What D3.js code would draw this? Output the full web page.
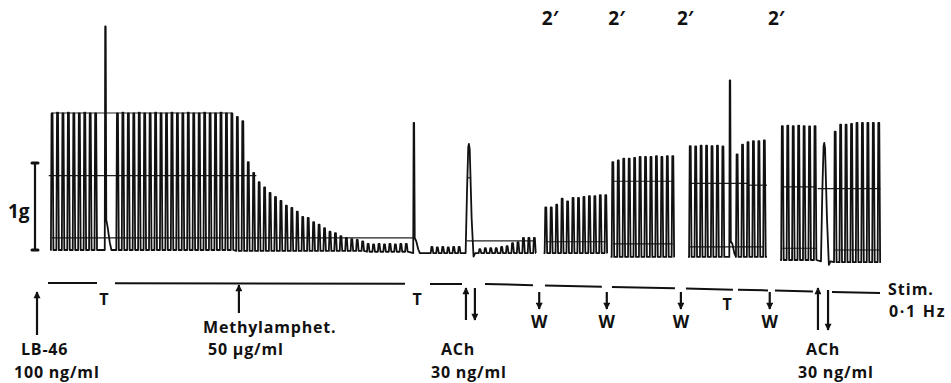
<!DOCTYPE html>
<html><head><meta charset="utf-8">
<script src="https://cdn.jsdelivr.net/npm/d3@7"></script>
<style>
body{margin:0;background:#fff}
svg{display:block;background:#fff}
text{font-family:"Open Sans",sans-serif;font-weight:700;fill:#111}
</style>
</head><body>
<svg id="c" width="951" height="383"></svg>
<script>
// ---------------- DATA ----------------
// time unit: one stimulus interval (0.1 Hz -> 10 s); tension in g
const segA1Peaks = [1.57,1.58,1.57,1.58,1.57,1.57,1.58,1.57,1.57];
const segA2Peaks = [1.57,1.58,1.57,1.57,1.58,1.57,1.57,1.58,1.57,1.57,1.58,1.57,1.57,1.58,1.57,1.57,1.58,1.57,1.57,1.58,1.57,1.57];
const decayPeaks = [1.53,1.48,1.01,0.885,0.78,0.72,0.655,0.61,0.565,0.51,0.485,0.44,0.38,0.37,0.32,0.29,0.25,0.21,0.195,0.16,0.14,0.125,0.115,0.10];
const residualPeaks = [0.07,0.065,0.07,0.065,0.07,0.065,0.07,0.07];
const postTetanusPeaks = [0.035,0.03,0.035,0.03,0.035,0.035];
const postAChPeaks = [0.01,0.02,0.02,0.02,0.035,0.045,0.08,0.09,0.14,0.14,0.14];
const wash1Peaks = [0.49,0.49,0.52,0.59,0.56,0.60,0.60,0.61,0.62,0.62,0.63,0.63];
const wash2Peaks = [1.01,1.03,1.05,1.05,1.06,1.07,1.07,1.07,1.08,1.07,1.08,1.08];
const wash3PrePeaks = [1.195,1.19,1.2,1.2,1.195,1.2,1.19];
const wash3PostPeaks = [1.10,1.21,1.24,1.25,1.25,1.26];
const wash4Peaks = [1.425,1.43,1.425,1.43,1.425,1.42,1.425];
const wash5Peaks = [1.36,1.44,1.44,1.45,1.46,1.46,1.46,1.46,1.46];

const trainPeaks  = [segA1Peaks, segA2Peaks, decayPeaks, residualPeaks, postTetanusPeaks, postAChPeaks,
                     wash1Peaks, wash2Peaks, wash3PrePeaks, wash3PostPeaks, wash4Peaks, wash5Peaks];
const trainStarts = [0, 12, 34, 58, 69.7, 78.5, 90.6, 102.9, 117.1, 125.7, 134, 143.7];
const trainBases  = [0, 0, -0.01, -0.02, -0.035, -0.035, -0.035, -0.08, -0.08, -0.08, -0.115, -0.14];

// tetanic stimulations (T)
const tetanusTimes = [9.8, 66.4, 124.4];
const tetanusPeaks = [2.57, 1.46, 1.95];
const tetanusAfter = [0.35, 0.14, 0.1];
const tetanusBases = [0, -0.035, -0.08];

// ACh contractures
const achTimes = [76.5, 141.7];
const achPeaks = [1.22, 1.23];
const achBases = [-0.035, -0.13];

// continuous pen runs (recording cut into pieces: 2' gaps)
const runStarts = [-0.3, 90.2, 102.5, 116.7, 133.6];
const runEnds   = [88.8, 101.9, 114.2, 131.2, 152.1];

// faint horizontal reference traces
const refStarts = [0, -0.6, 0, 76.2, 76.1, 90.6, 102.9, 102.9, 117.0, 127.6, 117.0, 134, 140.5, 134, 143.5];
const refEnds   = [33, 37.5, 66.6, 76.9, 88.5, 101.6, 113.9, 113.9, 127.6, 131.2, 130.5, 140, 152, 140.2, 152];
const refLevels = [1.575, 0.855, 0.14, 0.83, 0.105, 0.095, 0.79, 0.07, 0.765, 0.745, 0.035, 0.725, 0.705, 0.02, 0.0];

// stimulation marker bars
const stimStarts = [-0.73, 11.56, 69.36, 79.45, 90.46, 102.75, 116.33, 125.87, 132.66, 143.12];
const stimEnds   = [8.26, 64.77, 75.23, 88.26, 100.9, 114.31, 124.95, 131.38, 139.63, 151.93];

// event markers
const tLabelTimes = [9.5, 67, 123.9];
const washTimes = [89.4, 101.8, 115.4, 131.7];
const gapLabelTimes = [91.4, 103.6, 116.2, 132.9];
const gapLabels = ["2′", "2′", "2′", "2′"];
const drugUpTimes = [-2.75, 34.3, 75.96, 140.55];
const drugDownTimes = [77.6, 142.4];

// ---------------- DRAW ----------------
const svg = d3.select("#c");
const x = d3.scaleLinear().domain([0, 152.3]).range([52, 882]);
const y = d3.scaleLinear().domain([0, 1]).range([250, 163]);
const stimY = d3.scaleLinear().domain([0, 79, 152]).range([283, 284, 293]);

// build elements
const elements = [];
trainPeaks.forEach((peaks, k) => {
  const b = trainBases[k];
  peaks.forEach((p, i) => {
    const t = trainStarts[k] + i;
    elements.push({t, base: b, pts: [[t-0.2, b], [t-0.08, p], [t+0.1, p], [t+0.26, b]]});
  });
});
tetanusTimes.forEach((t, k) => {
  const b = tetanusBases[k], p = tetanusPeaks[k], a = tetanusAfter[k];
  elements.push({t, base: b, pts: [[t-0.12, b], [t-0.04, p], [t+0.05, p], [t+0.16, a], [t+0.45, a*0.7], [t+0.8, a*0.25 + b*0.75], [t+1.1, b]]});
});
achTimes.forEach((t, k) => {
  const b = achBases[k], p = achPeaks[k];
  elements.push({t, base: b, pts: [[t-0.6, b], [t-0.35, p*0.55], [t-0.12, p*0.97], [t, p], [t+0.15, p*0.95], [t+0.5, p*0.3], [t+0.85, b-0.04], [t+1.15, b]]});
});
elements.sort((a, b) => a.t - b.t);

const line = d3.line().x(d => x(d[0])).y(d => y(d[1]));

// reference traces
svg.append("g").selectAll("line").data(refStarts).join("line")
  .attr("x1", (d) => x(d)).attr("x2", (d, i) => x(refEnds[i]))
  .attr("y1", (d, i) => y(refLevels[i])).attr("y2", (d, i) => y(refLevels[i]))
  .attr("stroke", "#222").attr("stroke-width", 1.2);

// main pen traces
runStarts.forEach((r0, k) => {
  const r1 = runEnds[k];
  const els = elements.filter(e => e.t >= r0 && e.t <= r1);
  const pts = [[r0, els[0].base]];
  els.forEach(e => pts.push(...e.pts));
  pts.push([r1, els[els.length-1].base]);
  svg.append("path").attr("d", line(pts)).attr("fill", "none")
    .attr("stroke", "#111").attr("stroke-width", 1.8).attr("stroke-linejoin", "round");
});

// scale bar 1 g
const sb = svg.append("g");
sb.append("line").attr("x1", 35).attr("x2", 35).attr("y1", y(0)).attr("y2", y(1)).attr("stroke", "#111").attr("stroke-width", 2.2);
[0, 1].forEach(v => sb.append("line").attr("x1", 32).attr("x2", 38).attr("y1", y(v)).attr("y2", y(v)).attr("stroke", "#111").attr("stroke-width", 3).attr("stroke-linecap", "round"));
svg.append("text").attr("x", 8).attr("y", 218).attr("font-size", 19).text("1g");

// gap labels
svg.append("g").selectAll("text").data(gapLabels).join("text")
  .attr("x", (d, i) => x(gapLabelTimes[i])).attr("y", 25).attr("text-anchor", "middle")
  .attr("font-size", 19).text(d => d);

// stim bars
svg.append("g").selectAll("line").data(stimStarts).join("line")
  .attr("x1", d => x(d)).attr("x2", (d, i) => x(stimEnds[i]))
  .attr("y1", d => stimY(d)).attr("y2", (d, i) => stimY(stimEnds[i]))
  .attr("stroke", "#111").attr("stroke-width", 2);

svg.append("text").attr("x", 888).attr("y", 295).attr("font-size", 16).attr("letter-spacing", 1).text("Stim.");
svg.append("text").attr("x", 889).attr("y", 317).attr("font-size", 16).attr("letter-spacing", 1.7).text("0·1 Hz");

// T labels
svg.append("g").selectAll("text").data(tLabelTimes).join("text")
  .attr("x", d => x(d)).attr("y", (d, i) => i < 2 ? 305 : 310).attr("text-anchor", "middle")
  .attr("font-size", 16).text("T");

// arrow marker
const defs = svg.append("defs");
defs.append("marker").attr("id", "ah").attr("viewBox", "0 0 10 10").attr("refX", 9).attr("refY", 5)
  .attr("markerWidth", 3.4).attr("markerHeight", 3.2).attr("orient", "auto-start-reverse")
  .append("path").attr("d", "M0,0L10,5L0,10Z").attr("fill", "#111");

function arrow(t, yFrom, yTo) {
  svg.append("line").attr("x1", x(t)).attr("x2", x(t)).attr("y1", yFrom).attr("y2", yTo)
    .attr("stroke", "#111").attr("stroke-width", 2.2).attr("marker-end", "url(#ah)");
}
// washes
washTimes.forEach(t => {
  arrow(t, 292, 309);
  svg.append("text").attr("x", x(t)).attr("y", 328).attr("text-anchor", "middle").attr("font-size", 17).text("W");
});
// drug additions
const upFrom = [335, 313, 320, 330], upTo = [292, 285, 288, 288];
drugUpTimes.forEach((t, i) => arrow(t, upFrom[i], upTo[i]));
const downFrom = [288, 290], downTo = [320, 330];
drugDownTimes.forEach((t, i) => arrow(t, downFrom[i], downTo[i]));

// drug labels
const lab = (tx, ty, s) => svg.append("text").attr("x", tx).attr("y", ty).attr("font-size", 16).attr("letter-spacing", 0.8).text(s);
lab(21, 355, "LB-46");
lab(14, 378, "100 ng/ml");
lab(203, 333, "Methylamphet.");
lab(208, 355, "50 μg/ml");
lab(441, 355, "ACh");
lab(431, 378, "30 ng/ml");
lab(806, 355, "ACh");
lab(798, 378, "30 ng/ml");
</script>
</body></html>
